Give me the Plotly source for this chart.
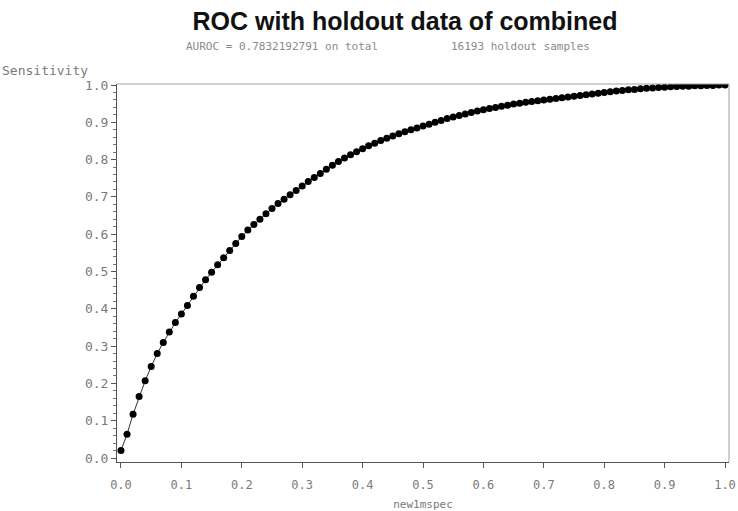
import plotly.graph_objects as go

# 1 - specificity on the holdout set, in steps of 0.01
one_minus_spec = [round(i * 0.01, 2) for i in range(101)]

# sensitivity at each cut-off
sensitivity = [
    0.020, 0.064, 0.117, 0.165, 0.207, 0.245, 0.280, 0.310, 0.338, 0.363,
    0.386, 0.409, 0.434, 0.457, 0.478, 0.498, 0.518, 0.537, 0.556, 0.575,
    0.594, 0.611, 0.626, 0.640, 0.655, 0.669, 0.682, 0.694, 0.706, 0.717,
    0.729, 0.741, 0.752, 0.763, 0.774, 0.785, 0.795, 0.804, 0.813, 0.821,
    0.829, 0.837, 0.844, 0.851, 0.857, 0.863, 0.869, 0.875, 0.880, 0.885,
    0.890, 0.895, 0.900, 0.905, 0.910, 0.914, 0.918, 0.922, 0.926, 0.930,
    0.934, 0.937, 0.940, 0.943, 0.946, 0.949, 0.951, 0.954, 0.956, 0.958,
    0.960, 0.962, 0.964, 0.966, 0.968, 0.970, 0.972, 0.974, 0.976, 0.978,
    0.980, 0.982, 0.984, 0.985, 0.987, 0.988, 0.990, 0.991, 0.992, 0.993,
    0.994, 0.995, 0.996, 0.997, 0.997, 0.998, 0.998, 0.999, 0.999, 1.000,
    1.000,
]

tick_vals = [round(i * 0.1, 1) for i in range(11)]
tick_text = [f"{v:.1f}" for v in tick_vals]

title_text = "ROC with holdout data of combined"
subtitle_text = "AUROC = 0.7832192791 on total" + "\u00a0" * 11 + "16193 holdout samples"
x_label = "new1mspec"
y_label = "Sensitivity"

mono = "DejaVu Sans Mono"
grey = "#7a7a7a"

L, R, T, B = 117, 9, 84, 49
PW, PH = 738 - L - R, 511 - T - B

fig = go.Figure(
    go.Scatter(
        x=one_minus_spec,
        y=sensitivity,
        mode="lines+markers",
        line=dict(color="#333333", width=1),
        marker=dict(color="black", size=7, symbol="circle"),
        showlegend=False,
    )
)

fig.update_layout(
    width=738,
    height=511,
    margin=dict(l=L, r=R, t=T, b=B),
    paper_bgcolor="white",
    plot_bgcolor="white",
    title=dict(
        text=title_text,
        x=405 / 738,
        xanchor="center",
        y=1 - 21 / 511,
        yanchor="middle",
        font=dict(family="Liberation Sans, Arial", size=25, color="#111111", weight=700),
    ),
    annotations=[
        dict(
            text=subtitle_text,
            xref="paper", yref="paper",
            x=(388 - L) / PW, y=(511 - B - 47) / PH,
            xanchor="center", yanchor="middle",
            showarrow=False,
            font=dict(family=mono, size=11, color="#8a8a8a"),
        ),
        dict(
            text=y_label,
            xref="paper", yref="paper",
            x=(0 - L) / PW, y=(511 - B - 71) / PH,
            xanchor="left", yanchor="middle",
            showarrow=False,
            font=dict(family=mono, size=13, color=grey),
        ),
    ],
    shapes=[
        dict(type="line", xref="paper", yref="paper", x0=0, x1=1, y0=1, y1=1,
             line=dict(color="#a0a0a0", width=1)),
        dict(type="line", xref="paper", yref="paper", x0=1, x1=1, y0=0, y1=1,
             line=dict(color="#a0a0a0", width=1)),
    ],
)

fig.update_xaxes(
    range=[-0.0066, 1.0066],
    automargin=False,
    tickvals=tick_vals,
    ticktext=tick_text,
    ticks="outside",
    ticklen=5,
    tickcolor="#555555",
    showline=True,
    linecolor="#555555",
    linewidth=1,
    showgrid=False,
    zeroline=False,
    tickfont=dict(family=mono, size=12, color=grey),
    ticklabelstandoff=7,
    ticklabeloverflow="allow",
    title=dict(text=x_label, font=dict(family=mono, size=11, color=grey), standoff=13),
)

fig.update_yaxes(
    range=[-0.0107, 1.0027],
    automargin=False,
    tickvals=tick_vals,
    ticktext=tick_text,
    ticks="outside",
    ticklen=5,
    tickcolor="#555555",
    minor=dict(dtick=0.02, ticks="outside", ticklen=3, tickcolor="#777777"),
    showline=True,
    linecolor="#555555",
    linewidth=1,
    showgrid=False,
    zeroline=False,
    tickfont=dict(family=mono, size=13, color=grey),
)

fig.write_html("out.html")
